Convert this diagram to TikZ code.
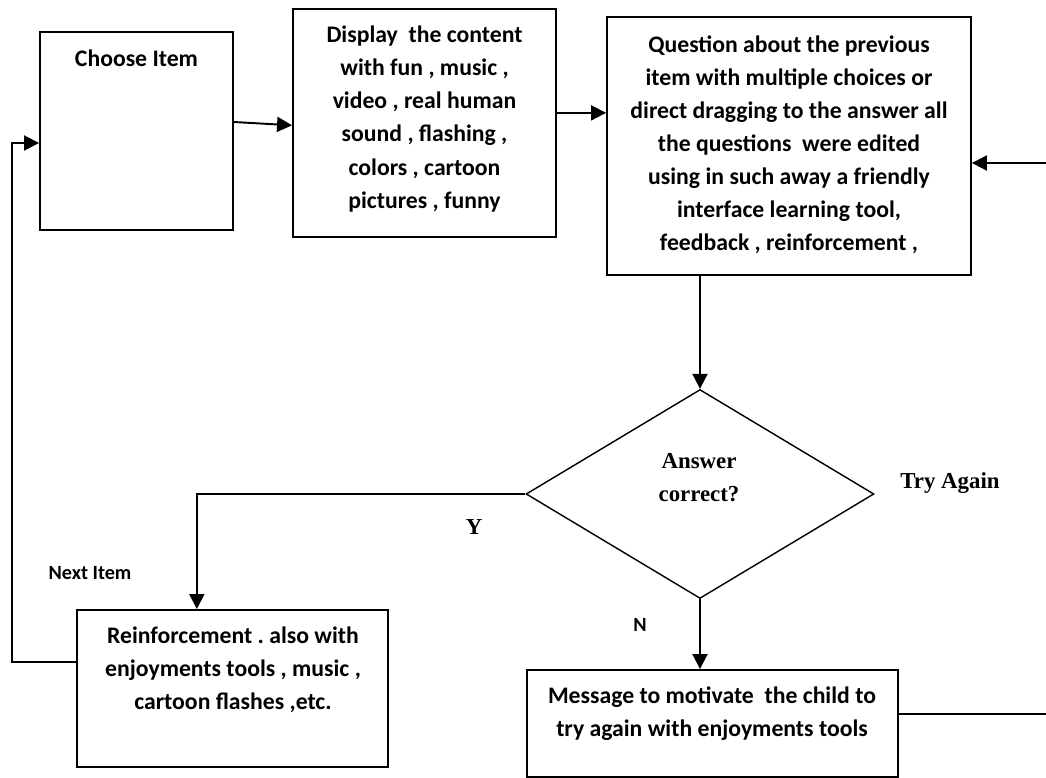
\documentclass[tikz,border=0pt]{standalone}
\usepackage{fontspec}
\setmainfont{Carlito}
\newfontfamily\timesfont{Liberation Serif}
\usetikzlibrary{positioning, calc, shapes.geometric, arrows.meta}
\frenchspacing

\begin{document}
\begin{tikzpicture}[
            x=0.02cm, y=-0.02cm,
            box/.style={rectangle, draw=black, line width=1.1pt, inner sep=0pt},
            boxtext/.style={font=\bfseries\fontsize{13.5}{18.8}\selectfont, align=center},
            decision/.style={diamond, draw=black, line width=0.8pt, inner sep=0pt,
                             minimum width=6.96cm, minimum height=4.18cm},
            dtext/.style={font=\timesfont\bfseries\fontsize{13}{18.8}\selectfont, align=center},
            small/.style={font=\bfseries\fontsize{11.5}{14}\selectfont},
            arr/.style={-{Triangle[length=0.3cm, width=0.3cm]}, line width=1.1pt},
            line/.style={line width=1.1pt}
        ]
            \useasboundingbox (0,0) rectangle (1046,778);

            % --- boxes ---
            \node[box, minimum width=3.86cm, minimum height=3.96cm] (choose) at (136.5,131) {};
            \node[boxtext] (choose-t) at (136.5,58) {Choose Item};

            \node[box, minimum width=5.26cm, minimum height=4.56cm] (display) at (424.5,123) {};
            \node[boxtext] (display-t) at (424.5,119) {Display~ the content\\with fun , music ,\\video , real human\\sound , flashing ,\\colors , cartoon\\pictures , funny};

            \node[box, minimum width=7.28cm, minimum height=5.16cm] (question) at (789,146) {};
            \node[boxtext] (question-t) at (789,145) {Question about the previous\\item with multiple choices or\\direct dragging to the answer all\\the questions~ were edited\\using in such away a friendly\\interface learning tool,\\feedback , reinforcement ,};

            \node[decision] (answer) at (700,494) {};
            \node[dtext] (answer-t) at (699,478) {Answer\\correct?};

            \node[box, minimum width=6.22cm, minimum height=3.14cm] (reinf) at (232.5,688.5) {};
            \node[boxtext] (reinf-t) at (233,670) {Reinforcement . also with\\enjoyments tools , music ,\\cartoon flashes ,etc.};

            \node[box, minimum width=7.42cm, minimum height=2.14cm] (message) at (712.5,723.5) {};
            \node[boxtext] (message-t) at (712,714) {Message to motivate~ the child to\\try again with enjoyments tools};

            % --- labels ---
            \node[dtext] (tryagain) at (950,483) {Try Again};
            \node[dtext] (yes) at (474,527) {Y};
            \node[small] (no) at (640,625) {N};
            \node[small] (nextitem) at (90,573) {Next Item};

            % --- free ends ---
            \coordinate (loop) at (12,143);
            \coordinate (tryin) at (1046,163);
            \coordinate (msgout) at (1046,714);

            % --- connectors ---
            \draw[arr] ($(choose.north east)!0.455!(choose.south east)$) -- ($(display.north west)!0.51!(display.south west)$);
            \draw[arr] ($(display.north east)!0.456!(display.south east)$) coordinate (a1) -- (a1 -| question.west);
            \draw[arr] (tryin) -- (tryin -| question.east);
            \draw[arr] (question.south -| answer.north) -- (answer.north);
            \draw[arr] (answer.west) -| ($(reinf.north west)!0.386!(reinf.north east)$);
            \draw[arr] (answer.south) -- (answer.south |- message.north);
            \draw[arr] ($(reinf.north west)!0.331!(reinf.south west)$) -| (loop) -- (loop -| choose.west);
            \draw[line] (message.east |- msgout) -- (msgout);
        \end{tikzpicture}
\end{document}
